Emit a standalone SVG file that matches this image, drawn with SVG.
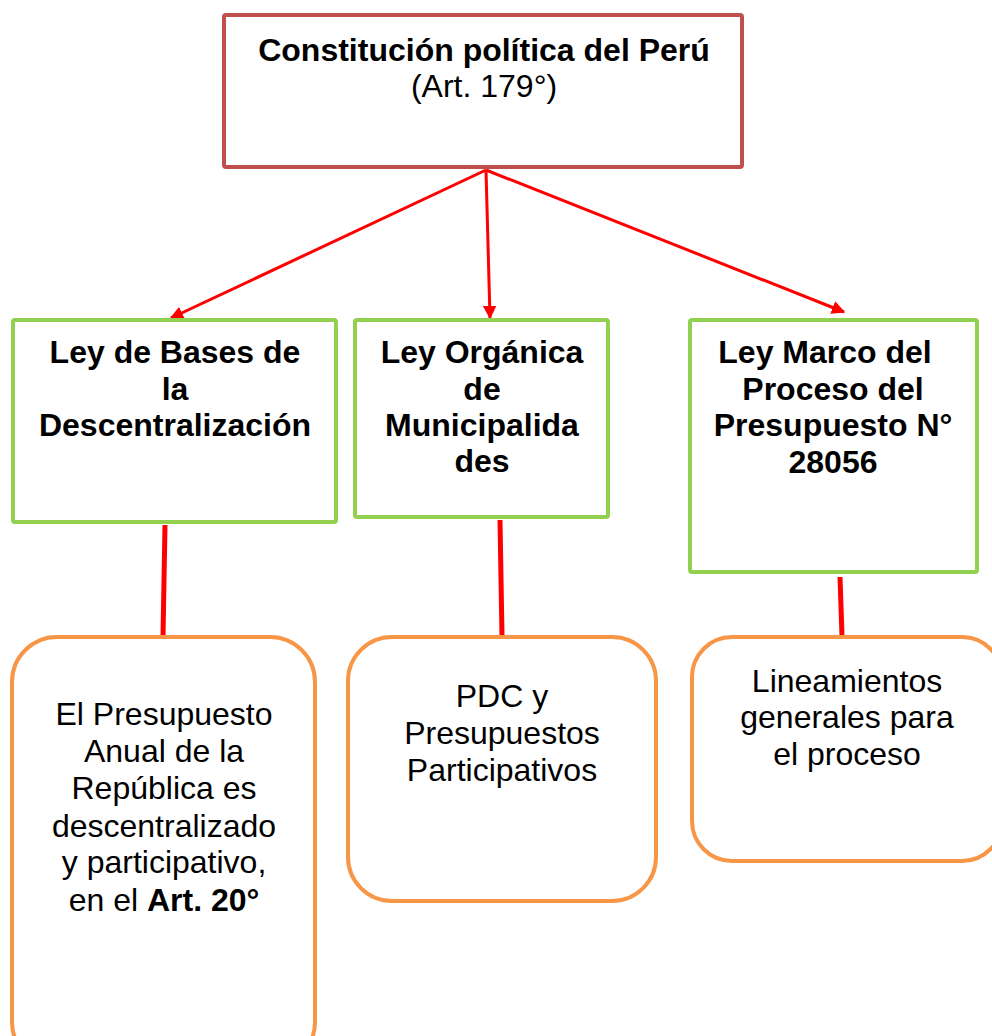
<svg xmlns="http://www.w3.org/2000/svg" width="992" height="1036" viewBox="0 0 992 1036">
<defs>
<marker id="ah" viewBox="0 0 10 10" refX="9" refY="5" markerWidth="4.5" markerHeight="4.5" markerUnits="strokeWidth" orient="auto">
<path d="M0,0 L10,5 L0,10 z" fill="#FF0000"/>
</marker>
<style>
.top{fill:#fff;stroke:#C0504D;stroke-width:4}
.law{fill:#fff;stroke:#92D050;stroke-width:4}
.res{fill:#fff;stroke:#F79646;stroke-width:4}
.arr{stroke:#FF0000;stroke-width:3;fill:none;marker-end:url(#ah)}
.lnk{stroke:#FF0000;stroke-width:5;fill:none}
text{font-family:"Liberation Sans",Arial,sans-serif;font-size:32px;fill:#000;text-anchor:middle}
.b{font-weight:bold}
</style>
</defs>
<rect width="992" height="1036" fill="#fff"/>
<g id="connectors">
<line class="arr" x1="486" y1="170" x2="171" y2="318"/>
<line class="arr" x1="486" y1="170" x2="490" y2="318"/>
<line class="arr" x1="486" y1="170" x2="844" y2="312"/>
<line class="lnk" x1="165" y1="525" x2="163" y2="636"/>
<line class="lnk" x1="500" y1="520" x2="502" y2="636"/>
<line class="lnk" x1="840" y1="577" x2="842" y2="636"/>
</g>
<g id="n-constitucion">
<rect class="top" x="224" y="15" width="518" height="152" rx="2"/>
<text class="b" x="484" y="61">Constitución política del Perú</text>
<text x="484" y="97">(Art. 179°)</text>
</g>
<g id="n-ley-bases">
<rect class="law" x="13" y="320" width="323" height="202" rx="2"/>
<text class="b" x="175" y="363">Ley de Bases de</text>
<text class="b" x="175" y="400">la</text>
<text class="b" x="175" y="436">Descentralización</text>
</g>
<g id="n-ley-organica">
<rect class="law" x="355" y="320" width="253" height="197" rx="2"/>
<text class="b" x="482" y="363">Ley Orgánica</text>
<text class="b" x="482" y="400">de</text>
<text class="b" x="482" y="436">Municipalida</text>
<text class="b" x="482" y="472">des</text>
</g>
<g id="n-ley-marco">
<rect class="law" x="690" y="320" width="287" height="252" rx="2"/>
<text class="b" x="825" y="363">Ley Marco del</text>
<text class="b" x="833" y="400">Proceso del</text>
<text class="b" x="833" y="436">Presupuesto N°</text>
<text class="b" x="833" y="473">28056</text>
</g>
<g id="n-presupuesto-anual">
<rect class="res" x="12" y="637" width="303" height="430" rx="45"/>
<text x="164" y="725">El Presupuesto</text>
<text x="164" y="762">Anual de la</text>
<text x="164" y="799">República es</text>
<text x="164" y="837">descentralizado</text>
<text x="164" y="873">y participativo,</text>
<text x="164" y="911">en el <tspan class="b">Art. 20°</tspan></text>
</g>
<g id="n-pdc">
<rect class="res" x="348" y="637" width="308" height="264" rx="44"/>
<text x="502" y="707">PDC y</text>
<text x="502" y="744">Presupuestos</text>
<text x="502" y="781">Participativos</text>
</g>
<g id="n-lineamientos">
<rect class="res" x="692" y="637" width="310" height="224" rx="40"/>
<text x="847" y="692">Lineamientos</text>
<text x="847" y="728">generales para</text>
<text x="847" y="765">el proceso</text>
</g>
</svg>
